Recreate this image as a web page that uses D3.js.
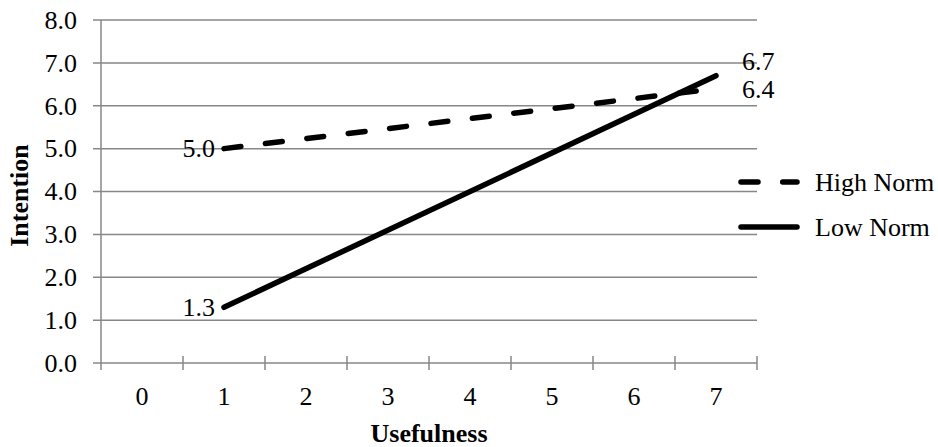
<!DOCTYPE html>
<html lang="en">
<head>
<meta charset="UTF-8">
<title>Intention by Usefulness</title>
<script src="https://d3js.org/d3.v7.min.js"></script>
<style>
    html, body {
        margin: 0;
        padding: 0;
        background: #fff;
        overflow: hidden;
    }
    svg {
        display: block;
        font-family: "Liberation Serif", "Times New Roman", serif;
    }
</style>
</head>
<body>
<svg id="chart" width="938" height="447"></svg>
<script>
    // categories on the x axis (usefulness)
    const categories = ["0", "1", "2", "3", "4", "5", "6", "7"];
    const y_ticks = [0, 1, 2, 3, 4, 5, 6, 7, 8];

    // series: usefulness level -> intention
    const high_norm_x = ["1", "7"];
    const high_norm_y = [5.0, 6.4];
    const low_norm_x = ["1", "7"];
    const low_norm_y = [1.3, 6.7];

    const series_names = ["High Norm", "Low Norm"];

    const svg = d3.select("#chart");
    const margin = { left: 101, right: 181, top: 20, bottom: 84 };
    const width = 938, height = 447;
    const grid_color = "#878787";
    const font_size = "26px";

    const x = d3.scaleBand()
        .domain(categories)
        .range([margin.left, width - margin.right]);

    const y = d3.scaleLinear()
        .domain([0, 8])
        .range([height - margin.bottom, margin.top]);

    // horizontal gridlines
    svg.append("g")
        .selectAll("line")
        .data(y_ticks)
        .enter().append("line")
        .attr("x1", margin.left - 8)
        .attr("x2", width - margin.right)
        .attr("y1", d => y(d))
        .attr("y2", d => y(d))
        .attr("stroke", grid_color)
        .attr("stroke-width", 1.5);

    // y axis labels
    svg.append("g")
        .selectAll("text")
        .data(y_ticks)
        .enter().append("text")
        .attr("x", margin.left - 24)
        .attr("y", d => y(d))
        .attr("dy", "0.34em")
        .attr("text-anchor", "end")
        .attr("font-size", font_size)
        .attr("fill", "#000")
        .text(d => d.toFixed(1));

    // y axis line
    svg.append("line")
        .attr("x1", margin.left).attr("x2", margin.left)
        .attr("y1", y(8)).attr("y2", y(0) + 7)
        .attr("stroke", grid_color)
        .attr("stroke-width", 1.5);

    // x axis with ticks between categories (crossing the axis)
    const boundaries = categories.map(c => x(c)).concat([x(categories[categories.length - 1]) + x.bandwidth()]);
    svg.append("g")
        .selectAll("line")
        .data(boundaries.slice(1))
        .enter().append("line")
        .attr("x1", d => d).attr("x2", d => d)
        .attr("y1", y(0) - 7).attr("y2", y(0) + 7)
        .attr("stroke", grid_color)
        .attr("stroke-width", 1.5);

    svg.append("g")
        .selectAll("text")
        .data(categories)
        .enter().append("text")
        .attr("x", d => x(d) + x.bandwidth() / 2)
        .attr("y", y(0) + 42)
        .attr("text-anchor", "middle")
        .attr("font-size", font_size)
        .attr("fill", "#000")
        .text(d => d);

    // axis titles
    svg.append("text")
        .attr("x", (margin.left + width - margin.right) / 2)
        .attr("y", 442)
        .attr("text-anchor", "middle")
        .attr("font-size", font_size)
        .attr("font-weight", "bold")
        .text("Usefulness");

    svg.append("text")
        .attr("transform", `translate(28, ${(y(0) + y(8)) / 2 + 4}) rotate(-90)`)
        .attr("text-anchor", "middle")
        .attr("font-size", font_size)
        .attr("font-weight", "bold")
        .text("Intention");

    const line = d3.line()
        .x(d => x(d[0]) + x.bandwidth() / 2)
        .y(d => y(d[1]));

    const high_data = high_norm_x.map((c, i) => [c, high_norm_y[i]]);
    const low_data = low_norm_x.map((c, i) => [c, low_norm_y[i]]);

    // low norm (solid)
    svg.append("path")
        .datum(low_data)
        .attr("d", line)
        .attr("fill", "none")
        .attr("stroke", "#000")
        .attr("stroke-width", 5.5)
        .attr("stroke-linecap", "round");

    // high norm (dashed)
    svg.append("path")
        .datum(high_data)
        .attr("d", line)
        .attr("fill", "none")
        .attr("stroke", "#000")
        .attr("stroke-width", 5.5)
        .attr("stroke-linecap", "round")
        .attr("stroke-dasharray", "17,24.7");

    // data labels: first point label to the left, last point to the right
    function addLabels(data, end_dy) {
        const g = svg.append("g").attr("font-size", font_size).attr("fill", "#000");
        const first = data[0], last = data[data.length - 1];
        g.append("text")
            .attr("x", x(first[0]) + x.bandwidth() / 2 - 9)
            .attr("y", y(first[1]))
            .attr("dy", "0.34em")
            .attr("text-anchor", "end")
            .text(first[1].toFixed(1));
        g.append("text")
            .attr("x", x(last[0]) + x.bandwidth() / 2 + 26)
            .attr("y", y(last[1]) + end_dy)
            .attr("dy", "0.34em")
            .attr("text-anchor", "start")
            .text(last[1].toFixed(1));
    }
    addLabels(high_data, 1);
    addLabels(low_data, -15);

    // legend
    const legend = svg.append("g");
    const legend_rows = [
        { name: series_names[0], dash: "17,24.7", y: 182 },
        { name: series_names[1], dash: null, y: 227 }
    ];
    legend_rows.forEach(r => {
        legend.append("line")
            .attr("x1", 741).attr("x2", 797)
            .attr("y1", r.y).attr("y2", r.y)
            .attr("stroke", "#000")
            .attr("stroke-width", 5.5)
            .attr("stroke-linecap", "round")
            .attr("stroke-dasharray", r.dash);
        legend.append("text")
            .attr("x", 815)
            .attr("y", r.y)
            .attr("dy", "0.34em")
            .attr("font-size", font_size)
            .text(r.name);
    });
</script>
</body>
</html>
